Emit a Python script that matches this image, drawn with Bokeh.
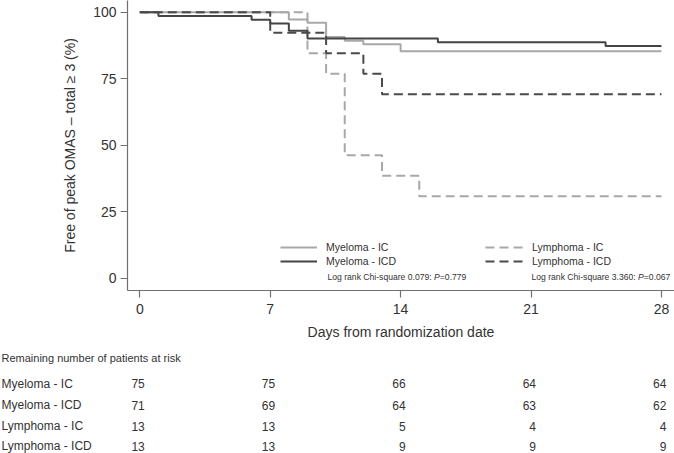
from bokeh.plotting import figure
from bokeh.models import Range1d, Legend, LegendItem, Label, FixedTicker
from bokeh.layouts import column
from bokeh.embed import file_html
from bokeh.resources import INLINE
from bokeh.core.properties import value

# ---------------- data ----------------
day_ticks = [0, 7, 14, 21, 28]
pct_ticks = [0, 25, 50, 75, 100]

mye_ic_t = [0, 8, 9, 10, 11, 12, 14, 28]
mye_ic_s = [100, 97.3, 96.0, 90.7, 89.3, 88.0, 85.3, 85.3]
mye_icd_t = [0, 1, 6, 7, 8, 9, 16, 25, 28]
mye_icd_s = [100, 98.6, 97.2, 95.8, 93.0, 90.1, 88.7, 87.3, 87.3]
lym_ic_t = [0, 9, 10, 11, 13, 15, 28]
lym_ic_s = [100, 84.6, 76.9, 46.2, 38.5, 30.8, 30.8]
lym_icd_t = [0, 7, 10, 12, 13, 28]
lym_icd_s = [100, 92.3, 84.6, 76.9, 69.2, 69.2]

series_names = ["Myeloma - IC", "Myeloma - ICD", "Lymphoma - IC", "Lymphoma - ICD"]
risk_mye_ic = [75, 75, 66, 64, 64]
risk_mye_icd = [71, 69, 64, 63, 62]
risk_lym_ic = [13, 13, 5, 4, 4]
risk_lym_icd = [13, 13, 9, 9, 9]

logrank_mye = ("0.079", "0.779")
logrank_lym = ("3.360", "0.067")

# ---------------- style / layout ----------------
FONT = "Liberation Sans"
TXT = "#333333"
W = 674
H1 = 346
H2 = 107
LEFT = 127
X0, X1 = -0.66, 28.70
Y0, Y1 = -4.62, 104.4
px_per_day = (W - LEFT) / (X1 - X0)

p = figure(width=W, height=H1, x_range=Range1d(X0, X1), y_range=Range1d(Y0, Y1),
           output_backend="svg", toolbar_location=None,
           min_border_left=LEFT, min_border_right=0, min_border_top=0, min_border_bottom=H1 - 290)
p.frame_align = False
p.outline_line_color = None
p.grid.visible = False

for ax in (p.xaxis[0], p.yaxis[0]):
    ax.axis_line_color = "#707070"
    ax.axis_line_width = 1.2
    ax.major_tick_line_color = "#707070"
    ax.major_tick_line_width = 1.2
    ax.minor_tick_line_color = None
    ax.major_tick_in = 0
    ax.major_tick_out = 7
    ax.major_label_text_font = FONT
    ax.major_label_text_font_size = "14px"
    ax.major_label_text_color = TXT
    ax.axis_label_text_font = FONT
    ax.axis_label_text_font_size = "14px"
    ax.axis_label_text_font_style = "normal"
    ax.axis_label_text_color = TXT

p.xaxis.ticker = FixedTicker(ticks=day_ticks)
p.yaxis.ticker = FixedTicker(ticks=pct_ticks)
p.xaxis.major_label_standoff = 6
p.yaxis.major_label_standoff = 4
p.xaxis.axis_label_standoff = 7
p.yaxis.axis_label_standoff = 12
p.xaxis.axis_label = "Days from randomization date"
p.yaxis.axis_label = "Free of peak OMAS \u2013 total \u2265 3 (%)"

r_mic = p.step(mye_ic_t, mye_ic_s, mode="after", line_color="#a8a8a8", line_width=2)
r_lic = p.step(lym_ic_t, lym_ic_s, mode="after", line_color="#a8a8a8", line_width=2, line_dash="9 5")
r_micd = p.step(mye_icd_t, mye_icd_s, mode="after", line_color="#444444", line_width=2)
r_licd = p.step(lym_icd_t, lym_icd_s, mode="after", line_color="#4a4a4a", line_width=2, line_dash="9 5")

def make_legend(items, loc, gw, standoff):
    return Legend(items=items, location=loc, glyph_width=gw, glyph_height=14, label_height=14,
                  label_standoff=standoff, spacing=0, padding=0, margin=0,
                  border_line_color=None, background_fill_alpha=0,
                  label_text_font=FONT, label_text_font_size="10.5px", label_text_color=TXT)

leg1 = make_legend([LegendItem(label=series_names[0], renderers=[r_mic]),
                    LegendItem(label=series_names[1], renderers=[r_micd])], (153, 22), 37, 9)
leg2 = make_legend([LegendItem(label=series_names[2], renderers=[r_lic]),
                    LegendItem(label=series_names[3], renderers=[r_licd])], (358, 22), 40, 7)
p.add_layout(leg1)
p.add_layout(leg2)

def logrank(x_day, y_val, chi, pv):
    fs = 8.6
    parts = [("Log rank Chi-square %s: " % chi, "normal", 0),
             ("P", "italic", 12.395 * fs),
             ("=%s" % pv, "normal", 13.062 * fs)]
    for t_, st, off in parts:
        p.add_layout(Label(x=x_day, y=y_val, text=t_, x_offset=off, text_font=FONT,
                           text_font_size="%spx" % fs, text_font_style=st, text_color=TXT,
                           text_baseline="middle", text_align="left"))

logrank((327 - 139.3) / px_per_day, 0.4, *logrank_mye)
logrank((531 - 139.3) / px_per_day, 0.6, *logrank_lym)

# ---------------- risk table: full-width frame, same day-to-pixel mapping ----------------
X2s = X0 - LEFT / px_per_day
t = figure(width=W, height=H2, x_range=Range1d(X2s, X1), y_range=Range1d(H2, 0),
           output_backend="svg", toolbar_location=None, min_border=0,
           x_axis_location=None, y_axis_location=None)
t.frame_align = False
t.outline_line_color = None
t.grid.visible = False

t.add_layout(Label(x=X2s, y=11, x_offset=1, text="Remaining number of patients at risk",
                   text_font=FONT, text_font_size="11px", text_color=TXT, text_baseline="middle"))
row_y = [37, 58.5, 79.5, 99.5]
for name, risk, ry in zip(series_names, [risk_mye_ic, risk_mye_icd, risk_lym_ic, risk_lym_icd], row_y):
    t.add_layout(Label(x=X2s, y=ry, x_offset=1, text=name, text_font=FONT,
                       text_font_size="12px", text_color=TXT, text_baseline="middle"))
    t.text(x=day_ticks, y=[ry] * len(day_ticks), text=[str(v) for v in risk],
           text_align="right", text_baseline="middle", x_offset=5,
           text_font=value(FONT), text_font_size="12px", text_color=TXT)

layout = column(p, t, spacing=0)
open("out.html", "w").write(file_html(layout, INLINE))
